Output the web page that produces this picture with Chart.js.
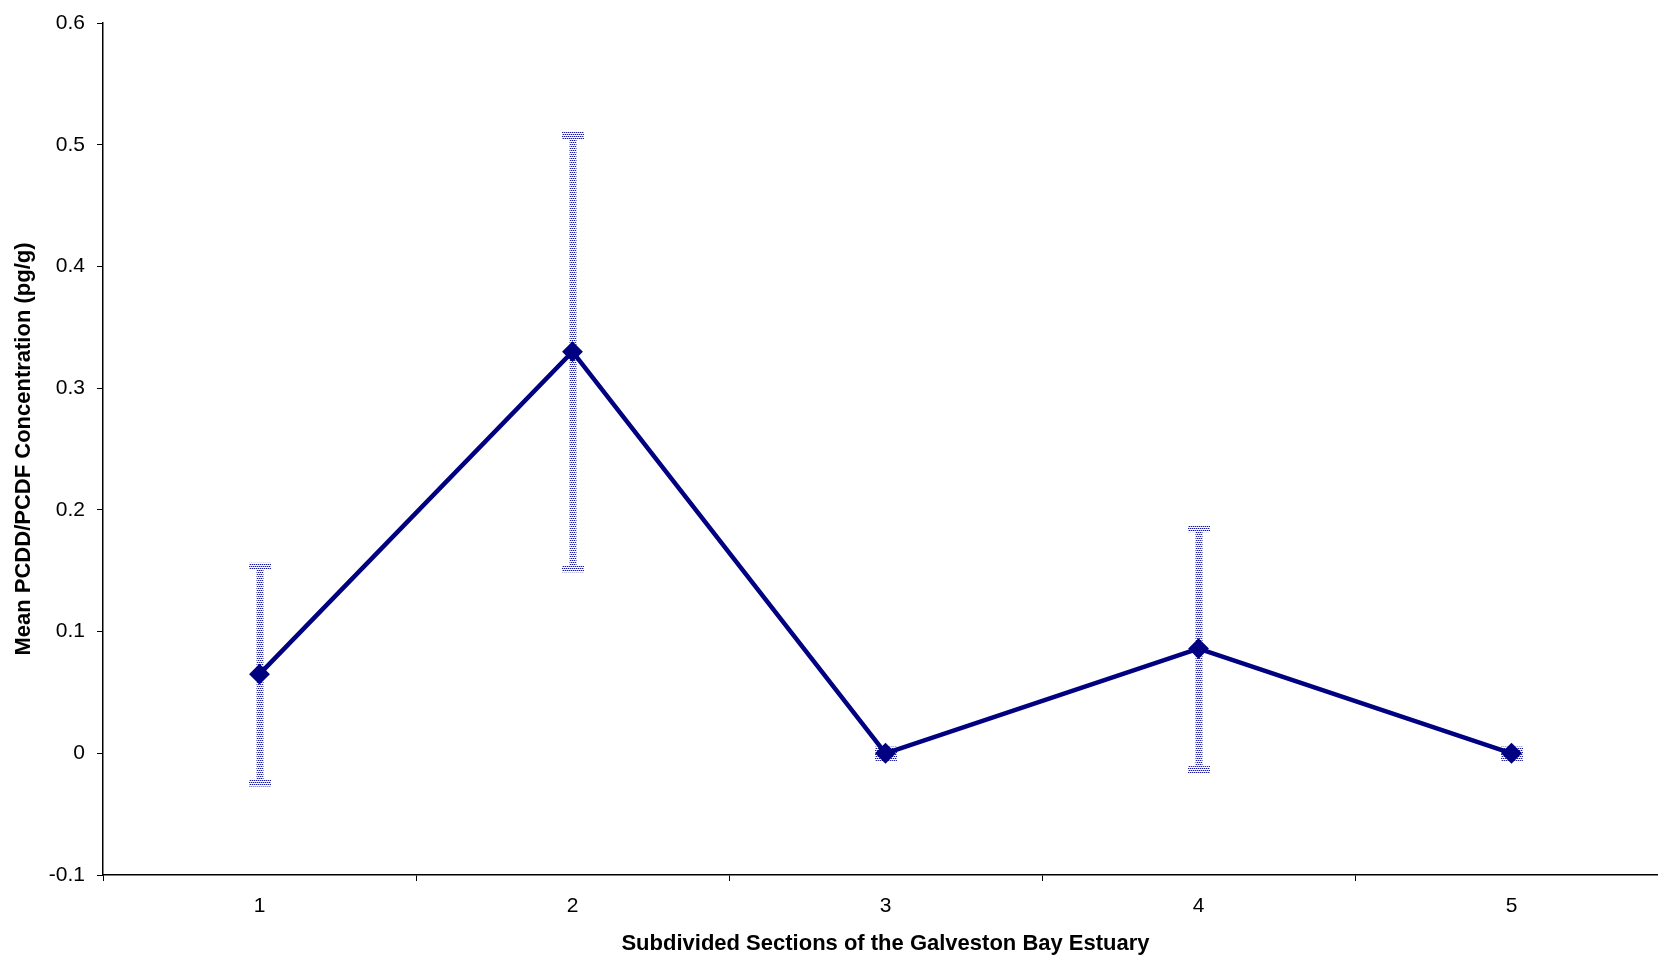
<!DOCTYPE html>
<html>
<head>
<meta charset="utf-8">
<script src="https://cdn.jsdelivr.net/npm/chart.js@4/dist/chart.umd.min.js"></script>
<style>
  html, body { margin: 0; padding: 0; background: #fff; overflow: hidden; }
  /* plot area in the original runs a little past the right edge of the picture */
  #wrap { width: 1668px; height: 957px; position: relative; }
  canvas { display: block; }
</style>
</head>
<body>
<div id="wrap"><canvas id="chart"></canvas></div>
<script>
// Data
const sections = ['1', '2', '3', '4', '5'];
const meanConc = [0.065, 0.330, 0.000, 0.086, 0.000];
const errConc = [0.089, 0.178, 0.003, 0.099, 0.003];

const FONT = "'Liberation Sans', Arial, sans-serif";

// dotted fill like the old spreadsheet error bars
function makePattern() {
    const c = document.createElement('canvas');
    c.width = 4; c.height = 4;
    const g = c.getContext('2d');
    g.fillStyle = '#a9a9e2';
    g.fillRect(0, 0, 4, 4);
    g.fillStyle = '#1c1c92';
    g.fillRect(0, 0, 1, 1);
    g.fillRect(2, 0, 1, 1);
    g.fillRect(1, 2, 1, 1);
    g.fillRect(3, 2, 1, 1);
    g.fillStyle = '#ffffff';
    g.fillRect(0, 1, 4, 1);
    g.fillRect(0, 3, 4, 1);
    return g.createPattern(c, 'repeat');
}

const errorBars = {
    id: 'errorBars',
    beforeDatasetsDraw(chart) {
        const ctx = chart.ctx;
        const xs = chart.scales.x, ys = chart.scales.y;
        ctx.save();
        ctx.fillStyle = makePattern();
        meanConc.forEach((v, i) => {
            const x = Math.round(xs.getPixelForValue(i));
            const yTop = ys.getPixelForValue(v + errConc[i]);
            const yBot = ys.getPixelForValue(v - errConc[i]);
            ctx.fillRect(x - 3.5, yTop, 7, yBot - yTop);
            ctx.fillRect(x - 11, yTop - 3, 22, 7);
            ctx.fillRect(x - 11, yBot - 3, 22, 7);
        });
        ctx.restore();
    }
};

new Chart(document.getElementById('chart'), {
    type: 'line',
    data: {
        labels: sections,
        datasets: [{
            data: meanConc,
            borderColor: '#000080',
            backgroundColor: '#000080',
            borderWidth: 4.5,
            tension: 0,
            pointStyle: 'rectRot',
            pointRadius: 9,
            pointBorderWidth: 2,
            pointBackgroundColor: '#000080',
            pointBorderColor: '#000080'
        }]
    },
    options: {
        responsive: true,
        maintainAspectRatio: false,
        animation: false,
        layout: { autoPadding: false, padding: { top: 23, right: 0, left: 0, bottom: 0 } },
        plugins: { legend: { display: false }, tooltip: { enabled: false } },
        scales: {
            x: {
                offset: true,
                grid: { offset: true, drawOnChartArea: false, drawTicks: true, tickLength: 6, color: '#000', lineWidth: 1 },
                border: { color: '#000', width: 1.5 },
                ticks: { color: '#000', font: { family: FONT, size: 21 }, padding: 13, maxRotation: 0 },
                title: {
                    display: true,
                    text: 'Subdivided Sections of the Galveston Bay Estuary',
                    color: '#000',
                    font: { family: FONT, size: 22, weight: 'bold' },
                    padding: { top: 0, bottom: 0 }
                },
                afterFit(s) {
                    s.height = 82;
                    s.paddingLeft = 0;
                    s.paddingRight = 0;
                }
            },
            y: {
                min: -0.1,
                max: 0.6,
                grid: { drawOnChartArea: false, drawTicks: true, tickLength: 6, color: '#000', lineWidth: 1 },
                border: { color: '#000', width: 1.5 },
                ticks: {
                    stepSize: 0.1,
                    color: '#000',
                    font: { family: FONT, size: 21 },
                    padding: 12,
                    callback: v => String(Number(v.toFixed(1)))
                },
                title: {
                    display: true,
                    text: 'Mean PCDD/PCDF Concentration (pg/g)',
                    color: '#000',
                    font: { family: FONT, size: 22, weight: 'bold' },
                    padding: { top: 11, bottom: 0 }
                },
                afterFit(s) {
                    s.width = 103;
                    s.paddingTop = 0;
                    s.paddingBottom = 0;
                }
            }
        }
    },
    plugins: [errorBars]
});
</script>
</body>
</html>
